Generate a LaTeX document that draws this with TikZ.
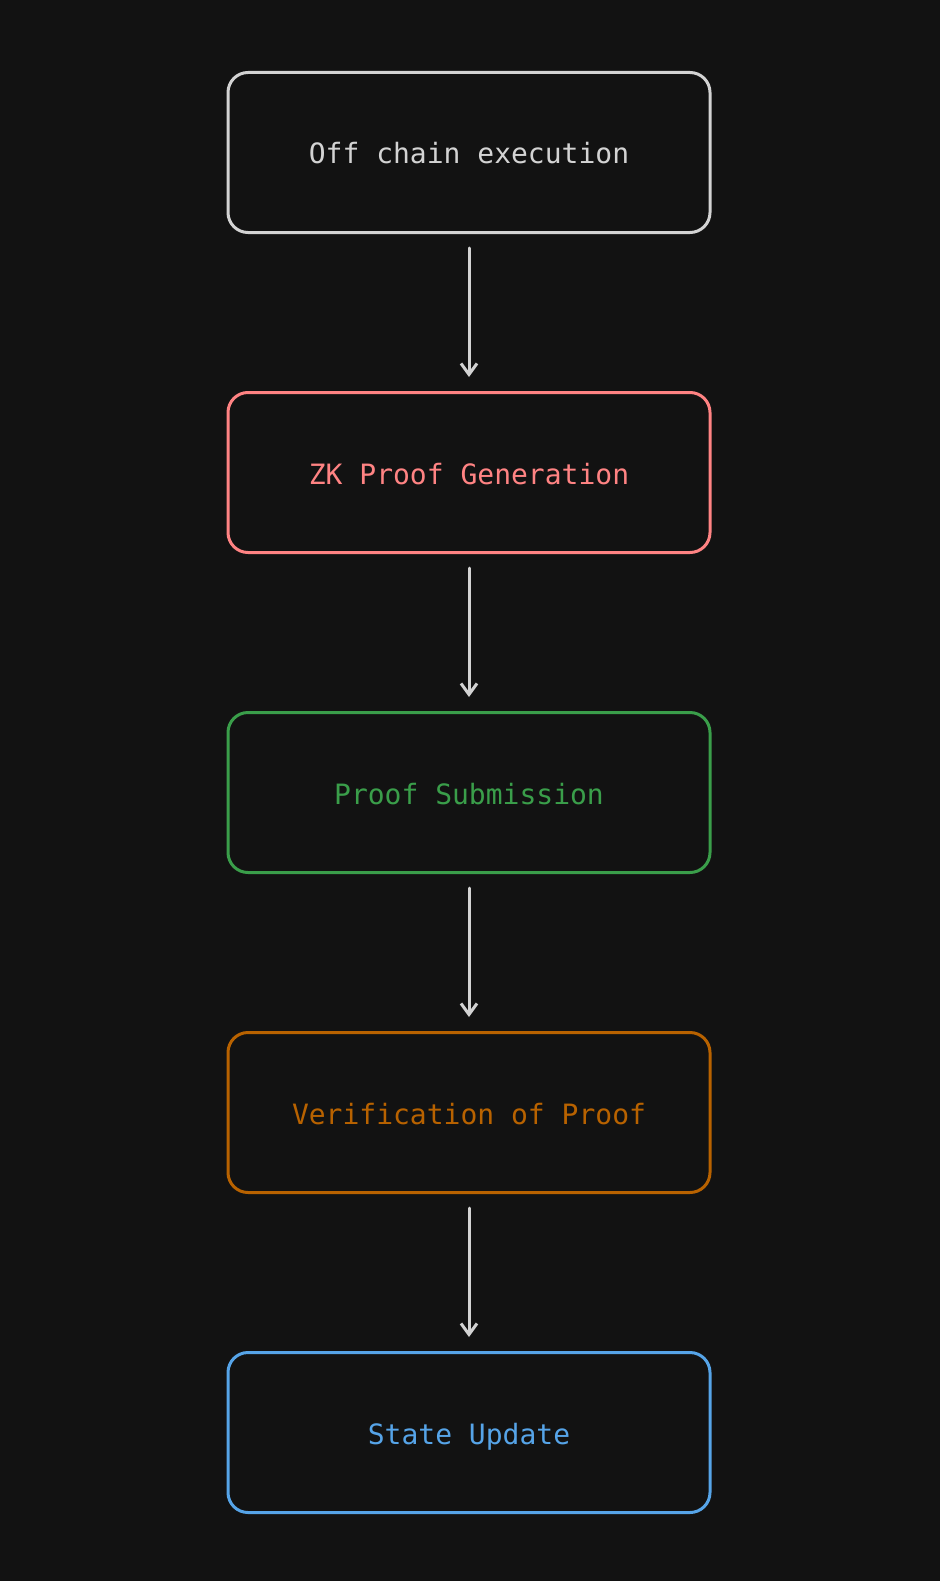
\documentclass[tikz,border=0pt]{standalone}
\usepackage{fontspec}
\setmonofont{DejaVu Sans Mono}
\usetikzlibrary{arrows.meta}
\definecolor{bg}{HTML}{121212}
\definecolor{cgray}{HTML}{D3D3D3}
\definecolor{cred}{HTML}{FF8383}
\definecolor{cgreen}{HTML}{3A9E4A}
\definecolor{corange}{HTML}{B86200}
\definecolor{cblue}{HTML}{56A4E8}
\tikzset{
  stepbox/.style={draw=#1, text=#1, line width=3pt, rounded corners=20pt,
    minimum width=482pt, minimum height=160pt, inner sep=0pt,
    text height=29pt, text depth=6pt,
    font=\ttfamily\fontsize{28}{34}\selectfont},
  flow/.style={draw=cgray, line width=3pt, line cap=round,
    -{Straight Barb[length=11pt,width=16pt,line width=3pt]},
    shorten <=14pt, shorten >=14pt}
}
\begin{document}
\begin{tikzpicture}[x=1pt,y=-1pt]
  \fill[bg] (0,0) rectangle (940,1581);
  \useasboundingbox (0,0) rectangle (940,1581);
  \node[stepbox=cgray]   (a) at (469,152.5)  {Off chain execution};
  \node[stepbox=cred]    (b) at (469,472.5)  {ZK Proof Generation};
  \node[stepbox=cgreen]  (c) at (469,792.5)  {Proof Submission};
  \node[stepbox=corange] (d) at (469,1112.5) {Verification of Proof};
  \node[stepbox=cblue]   (e) at (469,1432.5) {State Update};
  \draw[flow] (a) -- (b);
  \draw[flow] (b) -- (c);
  \draw[flow] (c) -- (d);
  \draw[flow] (d) -- (e);
\end{tikzpicture}
\end{document}
